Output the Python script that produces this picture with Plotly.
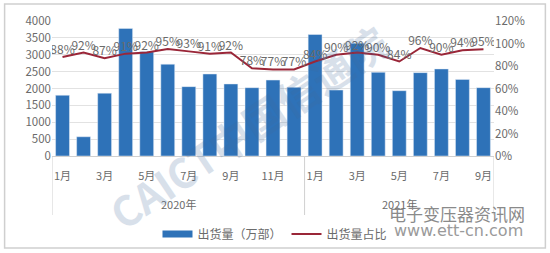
import plotly.graph_objects as go

months_2020 = ["1月", "2月", "3月", "4月", "5月", "6月", "7月", "8月", "9月", "10月", "11月", "12月"]
months_2021 = ["1月", "2月", "3月", "4月", "5月", "6月", "7月", "8月", "9月"]
years = ["2020年", "2021年"]
shipments = [1800, 570, 1860, 3780, 3090, 2720, 2055, 2430, 2135, 2025, 2250, 2035,
             3600, 1955, 3340, 2480, 1935, 2470, 2580, 2270, 2025]
share = [88, 92, 87, 91, 92, 95, 93, 91, 92, 78, 77, 77,
         84, 90, 92, 90, 84, 96, 90, 94, 95]

labels = months_2020 + months_2021
n = len(labels)
xs = list(range(n))
tickvals = [i for i in xs if (i if i < 12 else i - 12) % 2 == 0]
ticktext = [labels[i] for i in tickvals]

FONT = "Noto Sans CJK SC"
GRAY = "#6b6b6b"
BAR = "#2E72B8"
LINE = "#9A2638"

fig = go.Figure()
fig.add_trace(go.Bar(x=xs, y=shipments, name="出货量（万部）", marker_color=BAR,
                     width=0.66, yaxis="y", showlegend=False))
fig.add_trace(go.Scatter(x=[None], y=[None], mode="lines", name="出货量（万部）",
                         line=dict(color=BAR, width=7), yaxis="y"))
fig.add_trace(go.Scatter(x=xs, y=[v / 100 for v in share], name="出货量占比", yaxis="y2",
                         mode="lines+text", line=dict(color=LINE, width=2),
                         text=[f"{v}%" for v in share], textposition="top center",
                         textfont=dict(size=12, color=GRAY, family=FONT)))

W, H = 550, 253
L, R, T, B = 51.5, 55.5, 21, 97
pw, ph = W - L - R, H - T - B

def px(xp):
    return (xp - L) / pw

def py(yp):
    return (H - B - yp) / ph

shapes = []
for xv in [-0.5, 11.5, n - 0.5]:
    shapes.append(dict(type="line", xref="x", yref="paper", x0=xv, x1=xv,
                       y0=0, y1=py(215), line=dict(color="#d0d0d0", width=1)))
shapes.append(dict(type="rect", xref="paper", yref="paper", x0=px(4), x1=px(546),
                   y0=py(248), y1=py(4), line=dict(color="#cfcfcf", width=1.5),
                   layer="below"))

annotations = [
    dict(x=5.5, y=py(204), xref="x", yref="paper", text=years[0], showarrow=False,
         yanchor="middle", font=dict(size=11, color=GRAY, family=FONT)),
    dict(x=16, y=py(204), xref="x", yref="paper", text=years[1], showarrow=False,
         yanchor="middle", font=dict(size=11, color=GRAY, family=FONT)),
    dict(x=px(248), y=py(126), xref="paper", yref="paper", text="<b>CAICT中国信通院</b>",
         showarrow=False, textangle=-34, opacity=0.2, xanchor="center", yanchor="middle",
         font=dict(size=41, color="#3f6a9c", family=FONT)),
    dict(x=px(457), y=py(213), xref="paper", yref="paper", text="电子变压器资讯网",
         showarrow=False, xanchor="center", yanchor="middle",
         font=dict(size=17, color="#8a8a8a", family=FONT)),
    dict(x=px(459), y=py(230), xref="paper", yref="paper", text="www.ett-cn.com",
         showarrow=False, xanchor="center", yanchor="middle",
         font=dict(size=16, color="#9a9a9a", family="DejaVu Sans")),
]

fig.update_layout(
    width=W, height=H,
    margin=dict(l=L, r=R, t=T, b=B, autoexpand=False),
    paper_bgcolor="white", plot_bgcolor="white",
    font=dict(family=FONT, size=11, color=GRAY),
    showlegend=True,
    legend=dict(orientation="h", x=px(275), xanchor="center", y=py(234), yanchor="middle",
                font=dict(size=12, color=GRAY, family=FONT), itemwidth=30,
                bgcolor="rgba(0,0,0,0)"),
    xaxis=dict(range=[-0.5, n - 0.5], tickmode="array", tickvals=tickvals, ticktext=ticktext,
               showgrid=False, showline=True, linecolor="#d0d0d0", ticks="", zeroline=False,
               ticklabelstandoff=10,
               tickfont=dict(size=11, color=GRAY, family=FONT)),
    yaxis=dict(range=[0, 4000], dtick=500, showgrid=True, gridcolor="#e2e2e2",
               zeroline=False, showline=False, ticks="",
               tickfont=dict(size=11.5, color=GRAY, family=FONT)),
    yaxis2=dict(range=[0, 1.2], dtick=0.2, tickformat=".0%", overlaying="y", side="right",
                showgrid=False, zeroline=False, showline=False, ticks="",
                tickfont=dict(size=11.5, color=GRAY, family=FONT)),
    shapes=shapes,
    annotations=annotations,
)

fig.write_html("out.html")
